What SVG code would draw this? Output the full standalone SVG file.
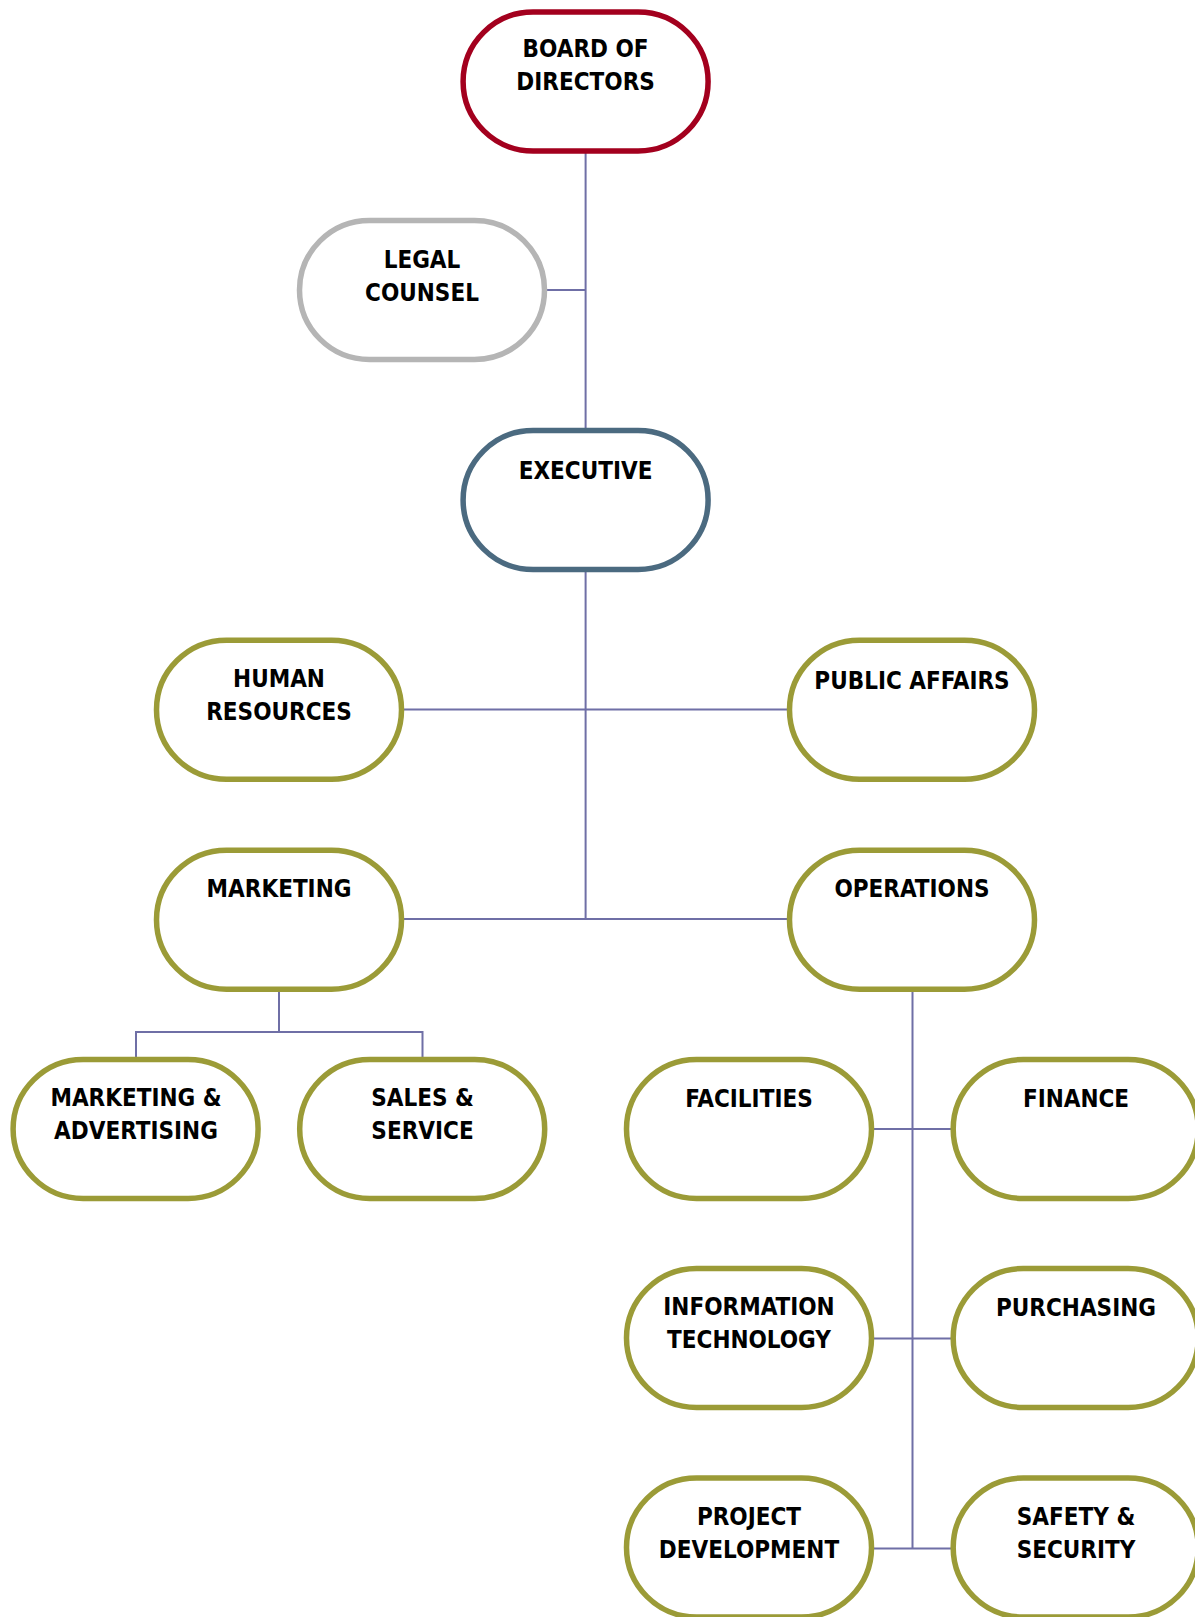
<svg xmlns="http://www.w3.org/2000/svg" width="1195" height="1617" viewBox="0 0 1195 1617">
<style>
.n{fill:#fff;stroke-width:5.5}
.o{stroke:#9b9b37}
.t{font-family:"DejaVu Sans Condensed","DejaVu Sans",sans-serif;font-stretch:condensed;font-weight:bold;font-size:24px;fill:#000;text-anchor:middle}
.c{fill:none;stroke:#6f6fa6;stroke-width:2}
</style>
<rect width="1195" height="1617" fill="#fff"/>
<g id="connectors" class="c">
<path d="M585.6 150V430M543 290H585.6"/>
<path d="M585.6 570V919M400 709.5H790M400 919H790"/>
<path d="M279 988V1032M136 1060V1032H422.5V1060"/>
<path d="M912.5 988V1548.5M871 1129H954M871 1338.5H954M871 1548.5H954"/>
</g>
<g id="board"><rect class="n" x="463.1" y="12" width="245" height="139" rx="70" ry="70" stroke="#a3001e"/><text class="t" x="585.6" y="57">BOARD OF</text><text class="t" x="585.6" y="90">DIRECTORS</text></g>
<g id="legal"><rect class="n" x="299.5" y="220.5" width="245" height="139" rx="70" ry="70" stroke="#b5b5b5"/><text class="t" x="422" y="267.5">LEGAL</text><text class="t" x="422" y="300.5">COUNSEL</text></g>
<g id="executive"><rect class="n" x="463.1" y="430.5" width="245" height="139" rx="70" ry="70" stroke="#4b6a80"/><text class="t" x="585.6" y="478.5">EXECUTIVE</text></g>
<g id="hr"><rect class="n o" x="156.5" y="640.2" width="245" height="139" rx="70" ry="70"/><text class="t" x="279" y="687">HUMAN</text><text class="t" x="279" y="719.5">RESOURCES</text></g>
<g id="public-affairs"><rect class="n o" x="789.5" y="640.2" width="245" height="139" rx="70" ry="70"/><text class="t" x="912" y="688.5">PUBLIC AFFAIRS</text></g>
<g id="marketing"><rect class="n o" x="156.5" y="850.2" width="245" height="139" rx="70" ry="70"/><text class="t" x="279" y="896.5">MARKETING</text></g>
<g id="operations"><rect class="n o" x="789.5" y="850.2" width="245" height="139" rx="70" ry="70"/><text class="t" x="912" y="896.5">OPERATIONS</text></g>
<g id="mkt-adv"><rect class="n o" x="13.1" y="1059.5" width="245" height="139" rx="70" ry="70"/><text class="t" x="136" y="1105.5">MARKETING &amp;</text><text class="t" x="136" y="1139">ADVERTISING</text></g>
<g id="sales"><rect class="n o" x="299.7" y="1059.5" width="245" height="139" rx="70" ry="70"/><text class="t" x="422.5" y="1105.5">SALES &amp;</text><text class="t" x="422.5" y="1139">SERVICE</text></g>
<g id="facilities"><rect class="n o" x="626.5" y="1059.5" width="245" height="139" rx="70" ry="70"/><text class="t" x="749" y="1106.5">FACILITIES</text></g>
<g id="finance"><rect class="n o" x="953.2" y="1059.5" width="245" height="139" rx="70" ry="70"/><text class="t" x="1076" y="1106.5">FINANCE</text></g>
<g id="it"><rect class="n o" x="626.5" y="1268.5" width="245" height="139" rx="70" ry="70"/><text class="t" x="749" y="1314.5">INFORMATION</text><text class="t" x="749" y="1347.5">TECHNOLOGY</text></g>
<g id="purchasing"><rect class="n o" x="953.2" y="1268.5" width="245" height="139" rx="70" ry="70"/><text class="t" x="1076" y="1316">PURCHASING</text></g>
<g id="project-dev"><rect class="n o" x="626.5" y="1478" width="245" height="139" rx="70" ry="70"/><text class="t" x="749" y="1524.5">PROJECT</text><text class="t" x="749" y="1557.5">DEVELOPMENT</text></g>
<g id="safety"><rect class="n o" x="953.2" y="1478" width="245" height="139" rx="70" ry="70"/><text class="t" x="1076" y="1524.5">SAFETY &amp;</text><text class="t" x="1076" y="1557.5">SECURITY</text></g>
</svg>
